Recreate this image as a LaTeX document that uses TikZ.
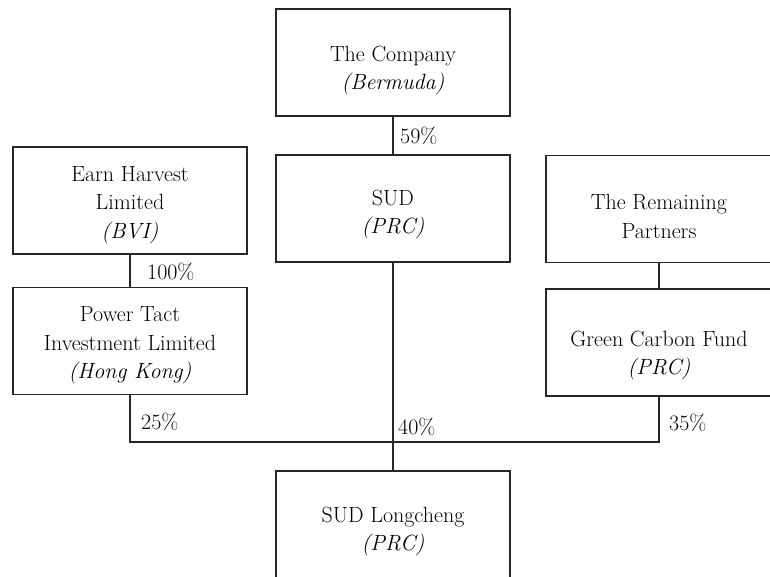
\documentclass[tikz,border=0pt]{standalone}
\begin{document}
\begin{tikzpicture}[x=1pt,y=-1pt,
  box/.style={draw=black!85,line width=1.2pt,minimum width=234pt,minimum height=107pt,inner sep=0pt},
  txt/.style={inner sep=0pt,align=center,text=black,font=\fontsize{22}{28.5}\selectfont},
  pct/.style={anchor=west,inner sep=0pt,text=black,font=\fontsize{22}{26}\selectfont},
  link/.style={draw=black!85,line width=1.2pt}]
\useasboundingbox (0,0) rectangle (770,577);
\clip (0,0) rectangle (770,577);
\node[box] (comp) at (393,62.5) {};
\node[box] (sud) at (393,208.5) {};
\node[box] (earn) at (130,200.5) {};
\node[box] (power) at (130,341) {};
\node[box,minimum width=226pt] (rem) at (659,209) {};
\node[box,minimum width=226pt] (green) at (659,342.5) {};
\node[box] (sudl) at (393,524.5) {};
\node[txt] (compT) at ([yshift=-8pt]comp.center) {The Company\\\textit{(Bermuda)}};
\node[txt] (sudT) at ([yshift=-6pt]sud.center) {SUD\\\textit{(PRC)}};
\node[txt] (earnT) at ([yshift=-4.5pt]earn.center) {Earn Harvest\\Limited\\\textit{(BVI)}};
\node[txt] (powerT) at ([yshift=-4.5pt]power.center) {Power Tact\\Investment Limited\\\textit{(Hong Kong)}};
\node[txt] (remT) at ([yshift=-7.5pt]rem.center) {The Remaining\\Partners};
\node[txt] (greenT) at ([yshift=-13pt]green.center) {Green Carbon Fund\\\textit{(PRC)}};
\node[txt] (sudlT) at ([yshift=-7pt]sudl.center) {SUD Longcheng\\\textit{(PRC)}};
\coordinate (busL) at (power.south |- 0,442);
\coordinate (busR) at (green.south |- 0,442);
\path[link] (comp.south) -- (sud.north);
\path[link] (earn.south) -- (power.north);
\path[link] (rem.south) -- (green.north);
\path[link] (sud.south) -- (sudl.north);
\path[link] (power.south) -- (busL) -- (busR) -- (green.south);
\node[pct] (p59) at (400,136) {59\%};
\node[pct] (p100) at (147,272) {100\%};
\node[pct] (p25) at (141,422) {25\%};
\node[pct] (p40) at (398,427) {40\%};
\node[pct] (p35) at (669,423) {35\%};
\end{tikzpicture}
\end{document}
